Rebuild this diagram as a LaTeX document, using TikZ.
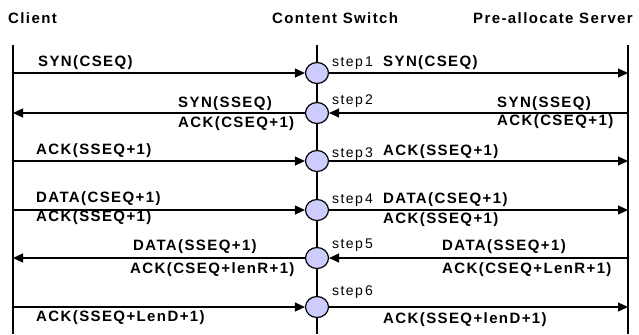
\documentclass[tikz,border=0pt]{standalone}
\usepackage{fontspec}
\setmainfont{Liberation Sans}
\newfontfamily\msgfont[LetterSpace=9.3]{Liberation Sans}
\newfontfamily\stepfont[LetterSpace=10]{Liberation Sans}
\usetikzlibrary{arrows.meta,shapes.geometric}
\definecolor{swfill}{HTML}{CCCCFF}
\tikzset{
  life/.style={line width=1.3bp},
  msg/.style={line width=1.2bp, -{Triangle[length=10bp,width=9bp]}},
  swnode/.style={ellipse, draw, fill=swfill, line width=1.2bp, minimum width=23bp, minimum height=21bp, inner sep=0pt},
  ttl/.style={font=\msgfont\bfseries\fontsize{15bp}{17bp}\selectfont, inner sep=0pt, anchor=base west},
  lbl/.style={font=\msgfont\bfseries\fontsize{15bp}{17bp}\selectfont, inner sep=0pt, anchor=base west},
  stp/.style={font=\stepfont\fontsize{14bp}{16bp}\selectfont, inner sep=0pt, anchor=base west},
}
\begin{document}
\begin{tikzpicture}[x=1bp, y=-1bp]
\useasboundingbox (0,0) rectangle (639,334);

% headings
\node[ttl] (hc) at (8,23) {Client};
\node[ttl] (hs) at (272,23) {Content Switch};
\node[ttl] (hp) at (473,23) {Pre-allocate Server};

% lifelines
\coordinate (ctop) at (13,45);  \coordinate (cbot) at (13,334);
\coordinate (wtop) at (317,45); \coordinate (wbot) at (317,334);
\coordinate (ptop) at (628,45); \coordinate (pbot) at (628,334);
\draw[life] (ctop) -- (cbot);
\draw[life] (wtop) -- (wbot);
\draw[life] (ptop) -- (pbot);

% switch processing points and the matching lifeline points
\foreach \i/\y in {1/73, 2/113, 3/161, 4/210, 5/258, 6/307} {
  \coordinate (c\i) at (13,\y);
  \coordinate (p\i) at (628,\y);
  \node[swnode] (s\i) at (317,\y) {};
}

% messages
\draw[msg] (c1) -- (s1);
\draw[msg] (s1) -- (p1);
\draw[msg] (s2) -- (c2);
\draw[msg] (p2) -- (s2);
\draw[msg] (c3) -- (s3);
\draw[msg] (s3) -- (p3);
\draw[msg] (c4) -- (s4);
\draw[msg] (s4) -- (p4);
\draw[msg] (s5) -- (c5);
\draw[msg] (p5) -- (s5);
\draw[msg] (c6) -- (s6);
\draw[msg] (s6) -- (p6);

% step labels
\node[stp] (t1) at (332,66)  {step\,1};
\node[stp] (t2) at (332,104) {step\,2};
\node[stp] (t3) at (332,157) {step\,3};
\node[stp] (t4) at (332,203) {step\,4};
\node[stp] (t5) at (332,248) {step\,5};
\node[stp] (t6) at (332,295) {step\,6};

% client side labels
\node[lbl] (a1)  at (38,66)   {SYN(CSEQ)};
\node[lbl] (a2a) at (178,107) {SYN(SSEQ)};
\node[lbl] (a2b) at (178,127) {ACK(CSEQ+1)};
\node[lbl] (a3)  at (36,154)  {ACK(SSEQ+1)};
\node[lbl] (a4a) at (36,202)  {DATA(CSEQ+1)};
\node[lbl] (a4b) at (36,221)  {ACK(SSEQ+1)};
\node[lbl] (a5a) at (133,250) {DATA(SSEQ+1)};
\node[lbl] (a5b) at (130,273) {ACK(CSEQ+lenR+1)};
\node[lbl] (a6)  at (36,321)  {ACK(SSEQ+LenD+1)};

% server side labels
\node[lbl] (b1)  at (383,66)  {SYN(CSEQ)};
\node[lbl] (b2a) at (497,107) {SYN(SSEQ)};
\node[lbl] (b2b) at (497,125) {ACK(CSEQ+1)};
\node[lbl] (b3)  at (383,155) {ACK(SSEQ+1)};
\node[lbl] (b4a) at (383,203) {DATA(CSEQ+1)};
\node[lbl] (b4b) at (383,223) {ACK(SSEQ+1)};
\node[lbl] (b5a) at (442,250) {DATA(SSEQ+1)};
\node[lbl] (b5b) at (442,273) {ACK(CSEQ+LenR+1)};
\node[lbl] (b6)  at (383,323) {ACK(SSEQ+lenD+1)};
\end{tikzpicture}
\end{document}
